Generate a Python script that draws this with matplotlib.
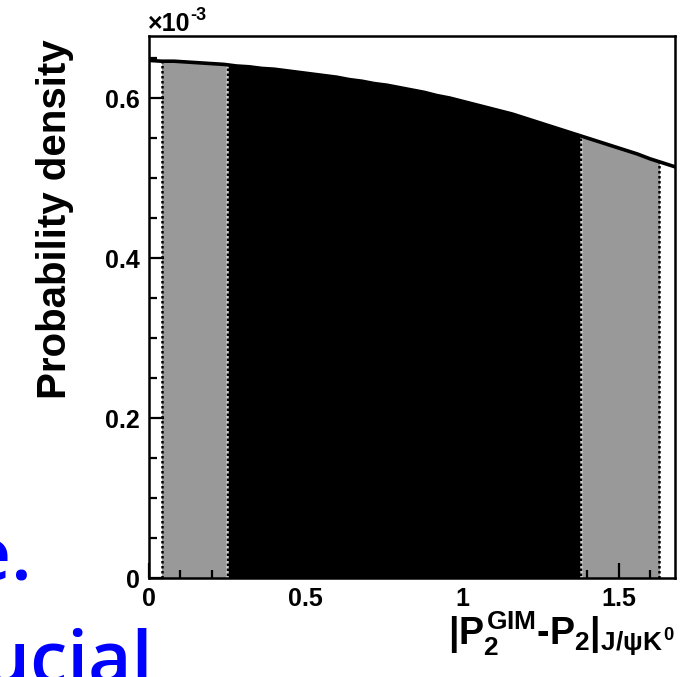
import numpy as np
import matplotlib.pyplot as plt
from matplotlib.patches import Rectangle

plt.rcParams["font.family"] = ["Liberation Sans", "DejaVu Sans"]
plt.rcParams["font.weight"] = "bold"
plt.rcParams["mathtext.fontset"] = "custom"
plt.rcParams["mathtext.rm"] = "Liberation Sans:bold"
plt.rcParams["mathtext.it"] = "Liberation Sans:bold"
plt.rcParams["mathtext.bf"] = "Liberation Sans:bold"

# sampling step of |P2^GIM - P2|
step = 0.04
x_max = 1.68
# probability density at x = 0, 0.04, ..., 1.68 (units of 1e-3)
density = [0.647, 0.646, 0.646, 0.645, 0.644, 0.643, 0.642, 0.640, 0.639, 0.637,
           0.636, 0.634, 0.632, 0.630, 0.628, 0.626, 0.623, 0.621, 0.618, 0.616,
           0.613, 0.610, 0.607, 0.603, 0.600, 0.596, 0.592, 0.588, 0.584, 0.580,
           0.575, 0.570, 0.565, 0.560, 0.555, 0.550, 0.545, 0.540, 0.535, 0.530,
           0.524, 0.519, 0.514]
inner_range = (0.25, 1.38)   # 68% region
outer_range = (0.04, 1.63)   # 95% region

yticks = [0, 0.2, 0.4, 0.6]
ytick_labels = ["0", "0.2", "0.4", "0.6"]
xticks = [0, 0.5, 1, 1.5]
xtick_labels = ["0", "0.5", "1", "1.5"]

xs = np.arange(len(density)) * step
density = np.array(density)

fig = plt.figure(figsize=(6.85, 6.77), dpi=100)
ax = fig.add_axes([149 / 685, 1 - 578 / 677, 526 / 685, 542 / 677])


def shade(lo, hi, color):
    fill = ax.fill_between(xs, 0, density, color=color, lw=0)
    fill.set_clip_path(Rectangle((lo, 0), hi - lo, 10, transform=ax.transData))


gray = "#999999"
shade(outer_range[0], inner_range[0], gray)
shade(inner_range[1], outer_range[1], gray)
shade(inner_range[0], inner_range[1], "black")
ax.plot(xs, density, color="black", lw=2.6, zorder=3)

for x, c in [(outer_range[0], "black"), (inner_range[0], "#cccccc"),
             (inner_range[1], "#cccccc"), (outer_range[1], "black")]:
    ax.vlines(x, 0, np.interp(x, xs, density), colors=c,
              linestyles=(0, (1, 1)), lw=1.8, zorder=2)

ax.set_xlim(0, x_max)
ax.set_ylim(0, 0.6775)
ax.set_xticks(xticks, labels=xtick_labels)
ax.set_yticks(yticks, labels=ytick_labels)
ax.set_xticks(np.arange(0, 1.65, 0.1), minor=True)
ax.set_yticks(np.arange(0, 0.68, 0.05), minor=True)
ax.tick_params(which="both", direction="in", top=False, right=False,
               width=1.6, labelsize=18, pad=6.5)
ax.tick_params(which="major", length=11)
ax.tick_params(which="minor", length=5.5)
for s in ax.spines.values():
    s.set_linewidth(1.8)

fig.text(148 / 685, 1 - 31 / 677, "×10", fontsize=18, ha="left", va="baseline")
fig.text(190 / 685, 1 - 20 / 677, "-3", fontsize=13, ha="left", va="baseline")
fig.text(55 / 685, 1 - 219 / 677, "Probability density", rotation=90,
         fontsize=29, ha="center", va="center")
fig.text(675 / 685, 1 - 634 / 677, r"$|P_{2}^{GIM}$-$P_{2}|_{J/\psi K^{0}}$",
         fontsize=27, ha="right", va="center")

# overlaid slide text
fig.text(33 / 685, 1 - 580 / 677, "le.", color="#0000ff", fontsize=54,
         family="Open Sans", fontweight="semibold", ha="right", va="baseline")
fig.text(153 / 685, 1 - 683 / 677, "crucial", color="#0000ff", fontsize=54,
         family="Open Sans", fontweight="semibold", ha="right", va="baseline")

fig.savefig("out.png", dpi=100)
